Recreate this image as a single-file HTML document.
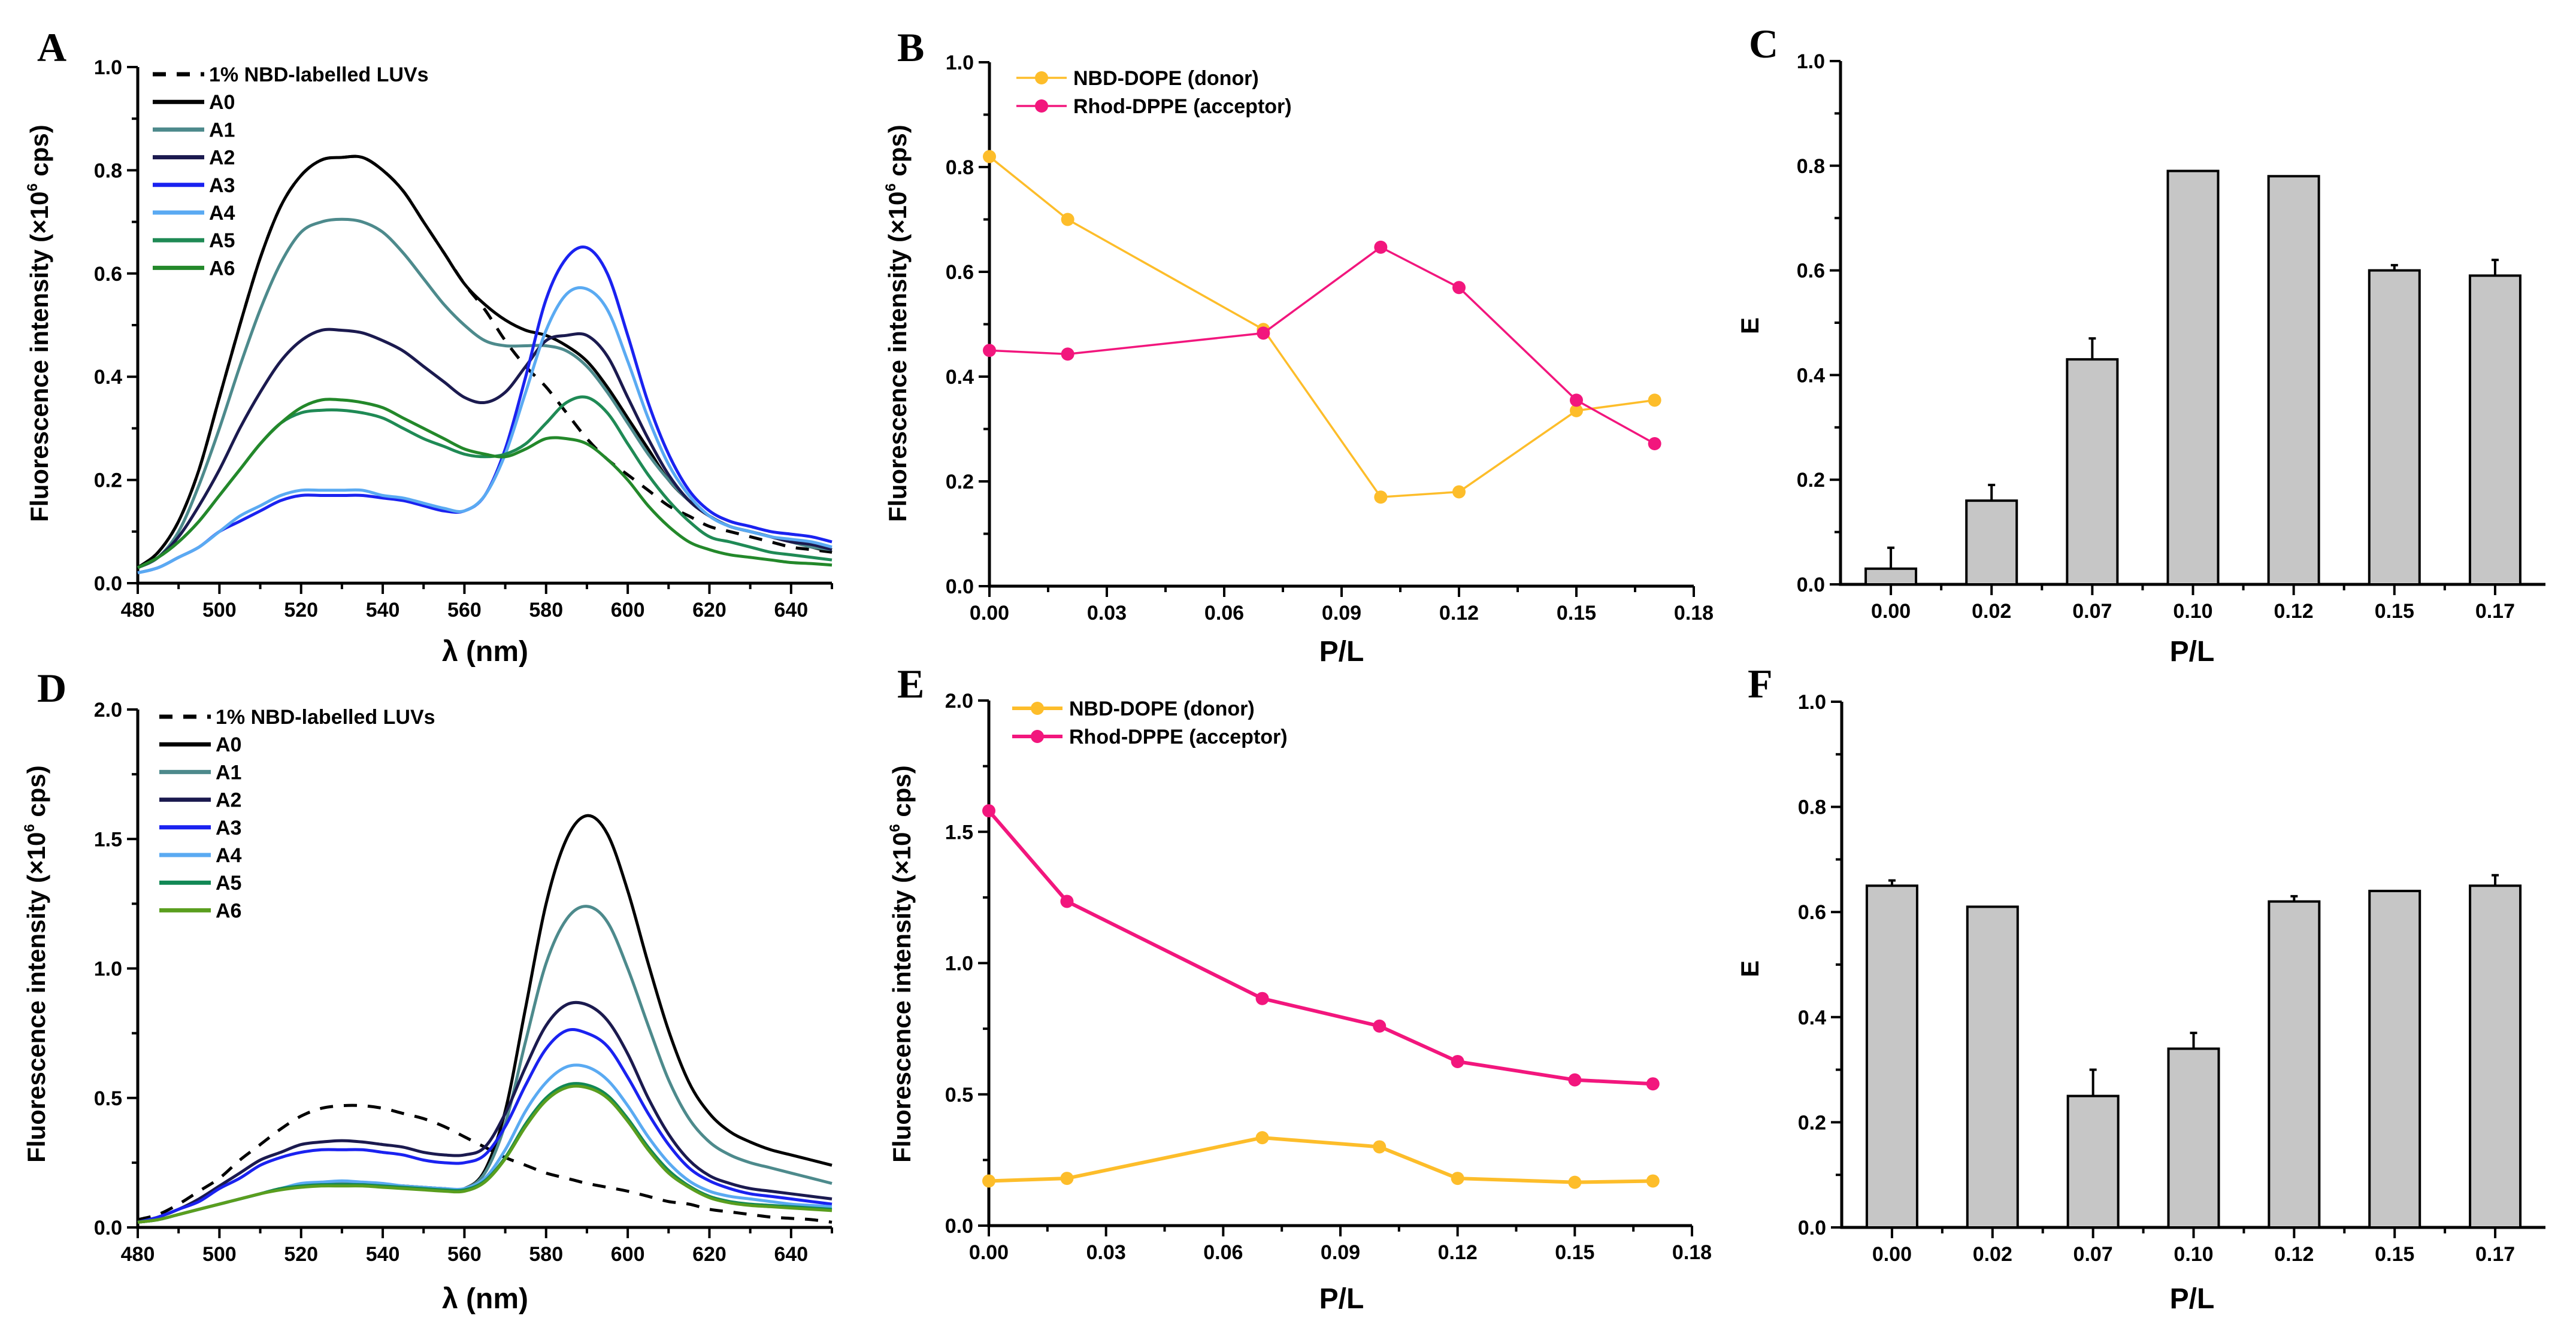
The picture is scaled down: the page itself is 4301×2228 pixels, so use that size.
<!DOCTYPE html>
<html><head><meta charset="utf-8"><style>
html,body{margin:0;padding:0;background:#fff}
svg{display:block}
.tk{font-family:"Liberation Sans Narrow","Liberation Sans",sans-serif;font-weight:bold;font-size:34px;fill:#000}
.yt{font-family:"Liberation Sans",sans-serif;font-weight:bold;font-size:42px;fill:#000}
.xt{font-family:"Liberation Sans Narrow","Liberation Sans",sans-serif;font-weight:bold;font-size:48px;fill:#000}
.pl{font-family:"Liberation Serif",serif;font-weight:bold;font-size:68px;fill:#000}
.lg{font-family:"Liberation Sans Narrow","Liberation Sans",sans-serif;font-weight:bold;font-size:34px;fill:#000}
</style></head><body>
<svg id="fig" width="4301" height="2228" viewBox="0 0 4301 2228" xmlns="http://www.w3.org/2000/svg"></svg>
<script>
const wl=[480,485,490,495,500,505,510,515,520,525,530,535,540,545,550,555,560,565,570,575,580,585,590,595,600,605,610,615,620,625,630,635,640,645,650];
const aNBD=[.03,.06,.12,.22,.36,.50,.63,.73,.79,.82,.825,.825,.80,.76,.70,.64,.58,.53,.47,.42,.38,.33,.28,.24,.21,.18,.15,.13,.11,.10,.09,.08,.07,.065,.06];
const aA0=[.03,.06,.12,.22,.36,.50,.63,.73,.79,.82,.825,.825,.80,.76,.70,.64,.58,.54,.51,.49,.48,.46,.43,.38,.32,.26,.20,.16,.13,.11,.10,.09,.08,.07,.06];
const aA1=[.03,.05,.10,.19,.30,.42,.53,.62,.68,.70,.705,.70,.68,.64,.59,.54,.50,.47,.46,.46,.46,.45,.42,.37,.31,.25,.20,.16,.13,.11,.10,.09,.08,.07,.065];
const aA2=[.03,.05,.09,.15,.22,.30,.37,.43,.47,.49,.49,.485,.47,.45,.42,.39,.36,.35,.37,.42,.47,.48,.48,.44,.36,.28,.21,.16,.13,.11,.10,.09,.08,.075,.065];
const aA3=[.02,.03,.05,.07,.10,.12,.14,.16,.17,.17,.17,.17,.165,.16,.15,.14,.14,.17,.26,.40,.55,.63,.65,.60,.48,.35,.25,.18,.14,.12,.11,.10,.095,.09,.08];
const aA4=[.02,.03,.05,.07,.10,.13,.15,.17,.18,.18,.18,.18,.17,.165,.155,.145,.14,.17,.25,.37,.49,.56,.57,.53,.43,.32,.23,.17,.13,.11,.10,.09,.085,.08,.07];
const aA5=[.03,.05,.08,.12,.17,.22,.27,.31,.33,.335,.335,.33,.32,.30,.28,.265,.25,.245,.25,.27,.31,.35,.36,.33,.27,.21,.16,.12,.09,.08,.07,.06,.055,.05,.045];
const aA6=[.03,.05,.08,.12,.17,.22,.27,.31,.34,.355,.355,.35,.34,.32,.30,.28,.26,.25,.245,.26,.28,.28,.27,.24,.20,.15,.11,.08,.065,.055,.05,.045,.04,.038,.035];
const dNBD=[.03,.05,.09,.14,.19,.26,.32,.38,.43,.46,.47,.47,.46,.44,.42,.39,.35,.31,.27,.24,.21,.19,.17,.155,.14,.12,.10,.09,.07,.06,.05,.04,.035,.03,.02];
const dA0=[.02,.03,.05,.07,.09,.11,.13,.15,.16,.17,.17,.17,.165,.16,.155,.15,.15,.22,.45,.85,1.25,1.5,1.59,1.52,1.3,1.02,.76,.56,.44,.37,.33,.30,.28,.26,.24];
const dA1=[.02,.03,.05,.07,.09,.11,.13,.15,.16,.17,.17,.17,.165,.16,.155,.15,.15,.21,.40,.72,1.02,1.19,1.24,1.18,1.00,.78,.57,.42,.33,.28,.25,.23,.21,.19,.17];
const dA2=[.02,.04,.07,.11,.16,.21,.26,.29,.32,.33,.335,.33,.32,.31,.29,.28,.28,.31,.44,.62,.78,.86,.86,.80,.67,.50,.36,.26,.20,.17,.15,.14,.13,.12,.11];
const dA3=[.02,.04,.07,.10,.15,.19,.24,.27,.29,.30,.30,.30,.29,.28,.26,.25,.25,.28,.39,.55,.69,.76,.75,.70,.58,.44,.32,.23,.18,.15,.13,.12,.11,.10,.09];
const dA4=[.02,.03,.05,.07,.09,.11,.13,.15,.17,.175,.18,.175,.17,.16,.155,.15,.15,.19,.30,.45,.56,.62,.62,.57,.47,.35,.25,.18,.14,.12,.11,.10,.09,.085,.08];
const dA5=[.02,.03,.05,.07,.09,.11,.13,.15,.16,.165,.165,.165,.16,.155,.15,.145,.145,.18,.27,.40,.50,.55,.55,.51,.42,.31,.22,.16,.12,.10,.09,.085,.08,.075,.07];
const dA6=[.02,.03,.05,.07,.09,.11,.13,.145,.155,.16,.16,.16,.155,.15,.145,.14,.14,.175,.265,.39,.49,.54,.54,.50,.41,.30,.21,.155,.115,.095,.085,.08,.075,.07,.065];
const plX=[0,0.02,0.07,0.10,0.12,0.15,0.17];
const bDonor=[.82,.70,.49,.17,.18,.335,.355];
const bAcceptor=[.45,.443,.483,.647,.57,.355,.272];
const eDonor=[.17,.18,.335,.30,.18,.165,.17];
const eAcceptor=[1.58,1.235,.865,.76,.625,.555,.54];
const barCats=["0.00","0.02","0.07","0.10","0.12","0.15","0.17"];
const cVals=[.03,.16,.43,.79,.78,.60,.59];
const cErr=[.04,.03,.04,0,0,.01,.03];
const fVals=[.65,.61,.25,.34,.62,.64,.65];
const fErr=[.01,0,.05,.03,.01,0,.02];
const specTicks=[480,500,520,540,560,580,600,620,640];
const plTicks=["0.00","0.03","0.06","0.09","0.12","0.15","0.18"];

const NS="http://www.w3.org/2000/svg";
const svg=document.getElementById('fig');
function mk(tag,at,parent){const e=document.createElementNS(NS,tag);for(const k in at)e.setAttribute(k,at[k]);(parent||svg).appendChild(e);return e;}
function txt(s,at,parent){const e=mk('text',at,parent);e.textContent=s;return e;}
function smooth(pts){
  let d='M'+pts[0][0].toFixed(1)+','+pts[0][1].toFixed(1);
  for(let i=0;i<pts.length-1;i++){
    const p0=pts[i-1]||pts[i],p1=pts[i],p2=pts[i+1],p3=pts[i+2]||p2;
    const c1=[p1[0]+(p2[0]-p0[0])/6,p1[1]+(p2[1]-p0[1])/6];
    const c2=[p2[0]-(p3[0]-p1[0])/6,p2[1]-(p3[1]-p1[1])/6];
    d+=` C${c1[0].toFixed(1)},${c1[1].toFixed(1)} ${c2[0].toFixed(1)},${c2[1].toFixed(1)} ${p2[0].toFixed(1)},${p2[1].toFixed(1)}`;
  }
  return d;
}

function axes(g,L,R,T,B,xs,ys,xMaj,xMin,yMaj,yMin,yMax,xLabels,yFmt){
  const ax=mk('path',{d:`M${L},${T} L${L},${B} L${R},${B}`,fill:'none',stroke:'#000','stroke-width':5},g);
  
  for(let v=0;v<=yMax+1e-9;v+=yMin){const y=ys(v);const maj=Math.abs(v/yMaj-Math.round(v/yMaj))<1e-6;
    mk('line',{x1:L,x2:L-(maj?18:10),y1:y,y2:y,stroke:'#000','stroke-width':4},g);
    if(maj){const t=txt(yFmt(v),{x:L-26,y:y+12,'text-anchor':'end',class:'tk'},g);}}
  xMaj.forEach((v,i)=>{const x=xs(v);mk('line',{x1:x,x2:x,y1:B,y2:B+18,stroke:'#000','stroke-width':4},g);
    const t=txt(xLabels[i],{x:x,y:B+56,'text-anchor':'middle',class:'tk'},g);});
  xMin.forEach(v=>{const x=xs(v);mk('line',{x1:x,x2:x,y1:B,y2:B+10,stroke:'#000','stroke-width':4},g);});
}
function ytitle(g,x,y){
  const t=mk('text',{transform:`translate(${x},${y}) rotate(-90)`,'text-anchor':'middle',class:'yt'},g);
  t.appendChild(document.createTextNode('Fluorescence intensity (×10'));const sp=mk('tspan',{'font-size':'24',dy:'-18'},t);sp.textContent='6';const s2=mk('tspan',{dy:'18'},t);s2.textContent=' cps)';
  
}
function spectrum(name,L,R,T,B,yMax,series,legY,legX){
  const g=mk('g',{});
  const xs=v=>L+(v-480)/(650-480)*(R-L), ys=v=>B-v/yMax*(B-T);
  const minor=[];for(let v=490;v<=650;v+=20)minor.push(v);
  axes(g,L,R,T,B,xs,ys,specTicks,minor,yMax>1?0.5:0.2,yMax>1?0.25:0.1,yMax,specTicks.map(String),v=>v.toFixed(1));
  series.forEach((s,i)=>{
    const d=smooth(wl.map((w,j)=>[xs(w),ys(s.v[j])]));
    const p=mk('path',{d:d,fill:'none',stroke:s.c,'stroke-width':5,'stroke-linejoin':'round','stroke-dasharray':s.dash?'22,18':'none'},g);
    
    const ly=legY+i*46.2;
    const ll=mk('line',{x1:legX,x2:legX+86,y1:ly,y2:ly,stroke:s.c,'stroke-width':7,'stroke-dasharray':s.dash?'22,18':'none'},g);
    
    const lt=txt(s.n,{x:legX+94,y:ly+12,class:'lg'},g);
  });
  return g;
}
function lineChart(name,L,R,T,B,yMax,yMaj,yMin,don,acc,lw,legX,legY){
  const g=mk('g',{});
  const xs=v=>L+v/0.18*(R-L), ys=v=>B-v/yMax*(B-T);
  const maj=[0,.03,.06,.09,.12,.15,.18],mn=[.015,.045,.075,.105,.135,.165];
  axes(g,L,R,T,B,xs,ys,maj,mn,yMaj,yMin,yMax,plTicks,v=>v.toFixed(1));
  [[don,'#fdbd2a','donor'],[acc,'#f2167d','acceptor']].forEach(([arr,c,n])=>{
    const p=mk('path',{d:plX.map((x,i)=>(i?'L':'M')+xs(x)+','+ys(arr[i])).join(' '),fill:'none',stroke:c,'stroke-width':lw},g);
    
    plX.forEach((x,i)=>{const m=mk('circle',{cx:xs(x),cy:ys(arr[i]),r:11,fill:c},g);});
  });
  [['NBD-DOPE (donor)','#fdbd2a'],['Rhod-DPPE (acceptor)','#f2167d']].forEach(([s,c],i)=>{
    const y=legY+i*47;
    mk('line',{x1:legX,x2:legX+84,y1:y,y2:y,stroke:c,'stroke-width':lw},g);
    mk('circle',{cx:legX+42,cy:y,r:11,fill:c},g);
    const t=txt(s,{x:legX+95,y:y+12,class:'lg'},g);
  });
  return g;
}
function barChart(name,L,R,T,B,vals,err){
  const g=mk('g',{});
  const n=barCats.length,step=(R-L)/n;
  const xs=i=>L+step*(i+0.5), ys=v=>B-v*(B-T);
  const mn=[];for(let i=1;i<n;i++)mn.push(i-0.5);
  axes(g,L,R,T,B,v=>L+step*(v+0.5),ys,barCats.map((c,i)=>i),mn,0.2,0.1,1.0,barCats,v=>v.toFixed(1));
  vals.forEach((v,i)=>{
    const x=xs(i),w=84;
    if(err[i]>0){mk('line',{x1:x,x2:x,y1:ys(v),y2:ys(v+err[i]),stroke:'#000','stroke-width':4},g);
      mk('line',{x1:x-6,x2:x+6,y1:ys(v+err[i]),y2:ys(v+err[i]),stroke:'#000','stroke-width':4},g);}
    const r=mk('rect',{x:x-w/2,y:ys(v),width:w,height:B-ys(v),fill:'#c6c6c6',stroke:'#000','stroke-width':4},g);
    
  });
  return g;
}
let gA=spectrum('panel-a-spectra',230,1389,112,974,1.0,[
 {n:'1% NBD-labelled LUVs',v:aNBD,c:'#000',dash:true},{n:'A0',v:aA0,c:'#000'},{n:'A1',v:aA1,c:'#4d8a8c'},{n:'A2',v:aA2,c:'#1b1a4f'},
 {n:'A3',v:aA3,c:'#1a22f0'},{n:'A4',v:aA4,c:'#5aaaf2'},{n:'A5',v:aA5,c:'#1f8a55'},{n:'A6',v:aA6,c:'#23882a'}],124,255);
ytitle(gA,80,540);
txt('λ (nm)',{x:810,y:1104,'text-anchor':'middle',class:'xt'},gA);
let gD=spectrum('panel-d-spectra',230,1389,1185,2050,2.0,[
 {n:'1% NBD-labelled LUVs',v:dNBD,c:'#000',dash:true},{n:'A0',v:dA0,c:'#000'},{n:'A1',v:dA1,c:'#4d8a8c'},{n:'A2',v:dA2,c:'#1b1a4f'},
 {n:'A3',v:dA3,c:'#1a22f0'},{n:'A4',v:dA4,c:'#5aaaf2'},{n:'A5',v:dA5,c:'#118855'},{n:'A6',v:dA6,c:'#5a9e1e'}],1197,266);
ytitle(gD,75,1610);
txt('λ (nm)',{x:810,y:2185,'text-anchor':'middle',class:'xt'},gD);
let gB=lineChart('panel-b-intensity',1652,2828,104,979,1.0,0.2,0.1,bDonor,bAcceptor,3.5,1697,130);
ytitle(gB,1513,540);
txt('P/L',{x:2240,y:1104,'text-anchor':'middle',class:'xt'},gB);
let gE=lineChart('panel-e-intensity',1651,2825,1170,2047,2.0,0.5,0.25,eDonor,eAcceptor,6,1690,1183);
ytitle(gE,1520,1610);
txt('P/L',{x:2240,y:2185,'text-anchor':'middle',class:'xt'},gE);
let gC=barChart('panel-c-efficiency',3073,4250,102,976,cVals,cErr);
txt('E',{transform:'translate(2936,544) rotate(-90)','text-anchor':'middle',class:'yt'},gC);
txt('P/L',{x:3660,y:1104,'text-anchor':'middle',class:'xt'},gC);
let gF=barChart('panel-f-efficiency',3075,4250,1172,2050,fVals,fErr);
txt('E',{transform:'translate(2936,1618) rotate(-90)','text-anchor':'middle',class:'yt'},gF);
txt('P/L',{x:3660,y:2185,'text-anchor':'middle',class:'xt'},gF);
[['A',62,102],['B',1498,102],['C',2920,96],['D',62,1172],['E',1498,1165],['F',2918,1165]].forEach(([s,x,y])=>{
 const t=txt(s,{x:x,y:y,class:'pl'});});
</script>
</body></html>
